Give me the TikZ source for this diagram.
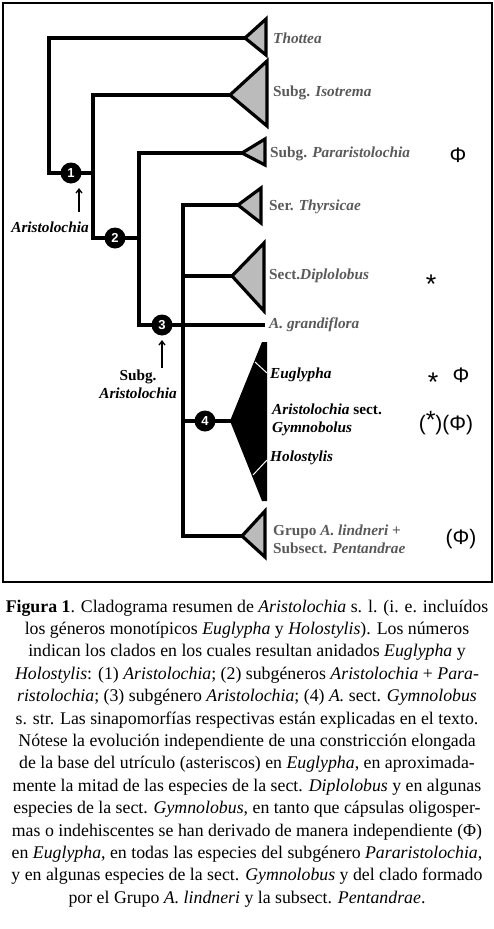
\documentclass[tikz,border=0pt]{standalone}
\usepackage{fontspec}
\setmainfont{Liberation Serif}
\newfontfamily\symfont{Liberation Sans}
\usetikzlibrary{arrows.meta}
\definecolor{labgrey}{HTML}{5A5A5A}
\definecolor{trifill}{HTML}{BBBBBB}
\begin{document}
\begin{tikzpicture}[x=1pt,y=-1pt,
  branch/.style={line width=3.2pt, line cap=rect, line join=miter},
  clade/.style={line width=3.2pt, line join=miter, fill=trifill, draw=black},
  bignode/.style={circle, fill=black, minimum size=21pt, inner sep=0pt, text=white, font=\symfont\bfseries\fontsize{13}{13}\selectfont},
  greylab/.style={anchor=west, inner sep=0pt, text=labgrey, font=\bfseries\fontsize{15.3}{18}\selectfont, align=left},
  blacklab/.style={anchor=west, inner sep=0pt, text=black, font=\bfseries\fontsize{15.3}{18}\selectfont, align=left},
  symb/.style={inner sep=0pt, font=\symfont\fontsize{21}{21}\selectfont},
  star/.style={anchor=base, inner sep=0pt, font=\symfont\fontsize{27}{27}\selectfont},
  uparrow/.style={line width=1.3pt, -{Straight Barb[length=4pt,width=6pt]}},
  capline/.style={anchor=base, inner sep=0pt, font=\fontsize{17.8}{20}\selectfont}
]
\useasboundingbox (0,0) rectangle (494,929);
\fill[white] (0,0) rectangle (494,929);
\draw[line width=1.2pt] (3,3) rectangle (492,582);

% coordinates of the tree
\coordinate (tA) at (245,38);
\coordinate (c0) at (49,38);
\coordinate (c1) at (49,173);
\coordinate (j1) at (93,173);
\coordinate (iC) at (93,95);
\coordinate (iA) at (230,95);
\coordinate (c2) at (93,238);
\coordinate (j2) at (139,238);
\coordinate (pC) at (139,153);
\coordinate (pA) at (242,153);
\coordinate (c3) at (139,325);
\coordinate (gE) at (263,325);
\coordinate (tC) at (183,205);
\coordinate (thA) at (238,205);
\coordinate (dL) at (183,276);
\coordinate (dA) at (232,276);
\coordinate (fL) at (183,421);
\coordinate (fA) at (230,421);
\coordinate (lC) at (183,536);
\coordinate (lA) at (242,536);

% branches
\draw[branch] (tA) -- (c0) -- (c1) -- (j1);
\draw[branch] (iA) -- (iC) -- (c2) -- (j2);
\draw[branch] (pA) -- (pC) -- (c3) -- (gE);
\draw[branch] (thA) -- (tC) -- (lC) -- (lA);
\draw[branch] (dL) -- (dA);
\draw[branch] (fL) -- (fA);

% collapsed clades
\draw[clade] (tA) -- (266,19) -- (266,55) -- cycle;
\draw[clade] (iA) -- (267,61) -- (267,126) -- cycle;
\draw[clade] (pA) -- (265,139) -- (265,165) -- cycle;
\draw[clade] (thA) -- (261,188) -- (261,223) -- cycle;
\draw[clade] (dA) -- (264,243) -- (264,311) -- cycle;
\draw[clade] (lA) -- (265,511) -- (265,557) -- cycle;

% Gymnolobus black clade
\fill[black] (fA) -- (262,342) -- (267,342) -- (267,501) -- (262,501) -- cycle;
\draw[white, line width=1pt] (255,362) -- (267,373);
\draw[white, line width=1pt] (253,475) -- (267,460);

% numbered nodes
\node[bignode] (n1) at (71,173) {1};
\node[bignode] (n2) at (115,238) {2};
\node[bignode] (n3) at (162,325) {3};
\node[bignode] (n4) at (205,421) {4};

% arrows and labels
\node[anchor=center, inner sep=0pt, font=\bfseries\itshape\fontsize{15.3}{18}\selectfont] (aristo) at (50,227) {Aristolochia};
\coordinate (a1s) at (79,212);
\coordinate (a1e) at (79,188);
\draw[uparrow] (a1s) -- (a1e);
\node[anchor=center, inner sep=0pt, align=center, font=\bfseries\fontsize{15.3}{18}\selectfont] (subga) at (138,384) {Subg.\\\itshape Aristolochia};
\coordinate (a3s) at (162,368);
\coordinate (a3e) at (162,340);
\draw[uparrow] (a3s) -- (a3e);

\node[greylab] (lThottea) at (273,38) {\itshape Thottea};
\node[greylab] (lIso) at (273,93) {Subg. \textit{Isotrema}};
\node[greylab] (lPara) at (270,154) {Subg. \textit{Pararistolochia}};
\node[greylab] (lThyr) at (269,207) {Ser. \textit{Thyrsicae}};
\node[greylab] (lDip) at (269,276) {Sect.\textit{Diplolobus}};
\node[greylab] (lGrand) at (269,325) {\itshape A. grandiflora};
\node[blacklab] (lEug) at (270,375) {\itshape Euglypha};
\node[blacklab] (lGym) at (272,420) {\textit{Aristolochia} sect.\\\itshape Gymnobolus};
\node[blacklab] (lHolo) at (270,458) {\itshape Holostylis};
\node[greylab] (lLind) at (273,539) {Grupo \textit{A. lindneri} +\\Subsect. \textit{Pentandrae}};

\node[symb] (sPara) at (458,155) {Φ};
\node[star] (sDip) at (431,293) {*};
\node[star] (sEug1) at (433,391) {*};
\node[symb] (sEug2) at (461,375) {Φ};
\node[symb] (sGym) at (446,423) {(\raisebox{2pt}{\fontsize{25}{25}\selectfont *})(Φ)};
\node[symb] (sLind) at (461,539) {(Φ)};

% caption
\node[capline] (cap1) at (247,612.0) {\textbf{Figura 1}. Cladograma resumen de \textit{Aristolochia} s. l. (i. e. incluídos};
\node[capline] (cap2) at (247,634.4) {los géneros monotípicos \textit{Euglypha} y \textit{Holostylis}). Los números};
\node[capline] (cap3) at (247,656.8) {indican los clados en los cuales resultan anidados \textit{Euglypha} y};
\node[capline] (cap4) at (247,679.2) {\textit{Holostylis}: (1) \textit{Aristolochia}; (2) subgéneros \textit{Aristolochia} + \textit{Para-}};
\node[capline] (cap5) at (247,701.6) {\textit{ristolochia}; (3) subgénero \textit{Aristolochia}; (4) \textit{A.} sect. \textit{Gymnolobus}};
\node[capline] (cap6) at (247,724.0) {s. str. Las sinapomorfías respectivas están explicadas en el texto.};
\node[capline] (cap7) at (247,746.4) {Nótese la evolución independiente de una constricción elongada};
\node[capline] (cap8) at (247,768.8) {de la base del utrículo (asteriscos) en \textit{Euglypha}, en aproximada-};
\node[capline] (cap9) at (247,791.2) {mente la mitad de las especies de la sect. \textit{Diplolobus} y en algunas};
\node[capline] (cap10) at (247,813.6) {especies de la sect. \textit{Gymnolobus}, en tanto que cápsulas oligosper-};
\node[capline] (cap11) at (247,836.0) {mas o indehiscentes se han derivado de manera independiente (Φ)};
\node[capline] (cap12) at (247,858.4) {en \textit{Euglypha}, en todas las especies del subgénero \textit{Pararistolochia},};
\node[capline] (cap13) at (247,880.8) {y en algunas especies de la sect. \textit{Gymnolobus} y del clado formado};
\node[capline] (cap14) at (247,903.2) {por el Grupo \textit{A. lindneri} y la subsect. \textit{Pentandrae}.};
\end{tikzpicture}
\end{document}
